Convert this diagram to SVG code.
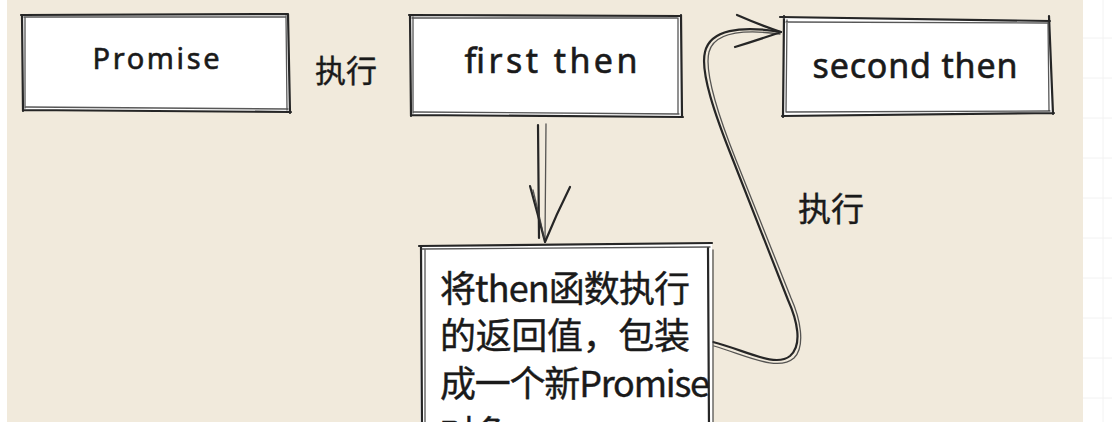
<svg xmlns="http://www.w3.org/2000/svg" width="1112" height="422" viewBox="0 0 1112 422">
<style>
.sk{fill:none;stroke:#262626;stroke-width:2.2;stroke-linecap:round;stroke-linejoin:round}
.sk2{fill:none;stroke:#3a3a3a;stroke-width:1.3;stroke-linecap:round;opacity:0.85}
.box{fill:#ffffff;stroke:none}
.lat{font-family:"Noto Sans","Liberation Sans",sans-serif;fill:#1a1a1a;stroke:#1a1a1a;stroke-width:0.6}
.cjk{font-family:"Noto Sans CJK SC","Noto Sans",sans-serif;fill:#1a1a1a;stroke:#1a1a1a;stroke-width:0.4}
.grid{stroke:#f2f2f2;stroke-width:1}
</style>
<rect x="0" y="0" width="1112" height="422" fill="#ffffff"/>
<g id="grid">
<line class="grid" x1="1083" y1="38" x2="1112" y2="38"/>
<line class="grid" x1="1083" y1="78" x2="1112" y2="78"/>
<line class="grid" x1="1083" y1="118" x2="1112" y2="118"/>
<line class="grid" x1="1083" y1="158" x2="1112" y2="158"/>
<line class="grid" x1="1083" y1="198" x2="1112" y2="198"/>
<line class="grid" x1="1083" y1="238" x2="1112" y2="238"/>
<line class="grid" x1="1083" y1="278" x2="1112" y2="278"/>
<line class="grid" x1="1083" y1="318" x2="1112" y2="318"/>
<line class="grid" x1="1083" y1="358" x2="1112" y2="358"/>
<line class="grid" x1="1083" y1="398" x2="1112" y2="398"/>
<line class="grid" x1="1103" y1="0" x2="1103" y2="422"/>
</g>
<rect x="7" y="0" width="1076" height="422" fill="#f1eadc"/>

<g id="connectors">
<path class="sk" d="M538 125 L539 238"/>
<path class="sk2" d="M546 124 L545 240"/>
<path class="sk" d="M530 186 Q538 215 545 242 Q556 215 570 187"/>
<path class="sk2" d="M533 190 Q540 218 544 238"/>
<path class="sk" d="M713 342 C745 350 775 368 790 356 C803 345 797 320 788 300 L733 160 C715 115 700 72 705 52 C710 30 740 25 781 32"/>
<path class="sk2" d="M714 346 C748 356 778 372 794 358 C806 346 800 318 791 298 L736 160 C718 115 704 72 709 52 C714 33 742 29 780 34"/>
<path class="sk" d="M737 15 Q760 25 781 32 Q758 40 735 47"/>
</g>

<g id="promise">
<path class="box" d="M22 15 L288 14 L290 112 L23 110 Z"/>
<path class="sk" d="M21 15 L288 14 M288 14 L290 113 M291 112 L23 110 M23 111 L22 15"/>
<path class="sk2" d="M24 17 L285 17 M286 16 L287 110 M288 109 L26 107 M25 108 L25 18"/>
<text class="lat" x="156" y="69" font-size="29" text-anchor="middle" textLength="127">Promise</text>
</g>

<text id="exec1" class="cjk" x="346" y="82" font-size="31" text-anchor="middle">执行</text>

<g id="first-then">
<path class="box" d="M410 15 L680 16 L682 117 L412 115 Z"/>
<path class="sk" d="M409 15 L680 16 M681 15 L682 117 M683 117 L411 115 M411 116 L410 15"/>
<path class="sk2" d="M412 18 L677 18 M678 18 L678 114 M679 114 L414 112 M413 113 L413 17"/>
<text class="lat" x="551" y="73" font-size="34" text-anchor="middle" textLength="173">first then</text>
</g>

<g id="second-then">
<path class="box" d="M783 18 L1050 20 L1053 113 L784 115 Z"/>
<path class="sk" d="M780 17 L1050 21 M1049 16 L1053 114 M1054 113 L782 116 M783 117 L784 16"/>
<path class="sk2" d="M786 22 L1047 23 M1048 22 L1049 110 M1050 111 L786 112 M786 112 L787 20"/>
<text class="lat" x="915" y="78" font-size="34" text-anchor="middle" textLength="205">second then</text>
</g>

<text id="exec2" class="cjk" x="831" y="221" font-size="33" text-anchor="middle">执行</text>

<g id="wrap-box">
<path class="box" d="M420 246 L712 243 L713 430 L420 430 Z"/>
<path class="sk" d="M419 246 L712 243 M708 248 L709 430 M421 246 L422 430"/>
<path class="sk2" d="M422 249 L710 247 M713 250 L713 430 M425 250 L425 430"/>
<text class="cjk" x="440" y="302" font-size="36" textLength="250">将then函数执行</text>
<text class="cjk" x="440" y="349" font-size="36" textLength="250">的返回值，包装</text>
<text class="cjk" x="440" y="397" font-size="36" textLength="270">成一个新Promise</text>
<text class="cjk" x="440" y="447" font-size="36">对象</text>
</g>
</svg>
